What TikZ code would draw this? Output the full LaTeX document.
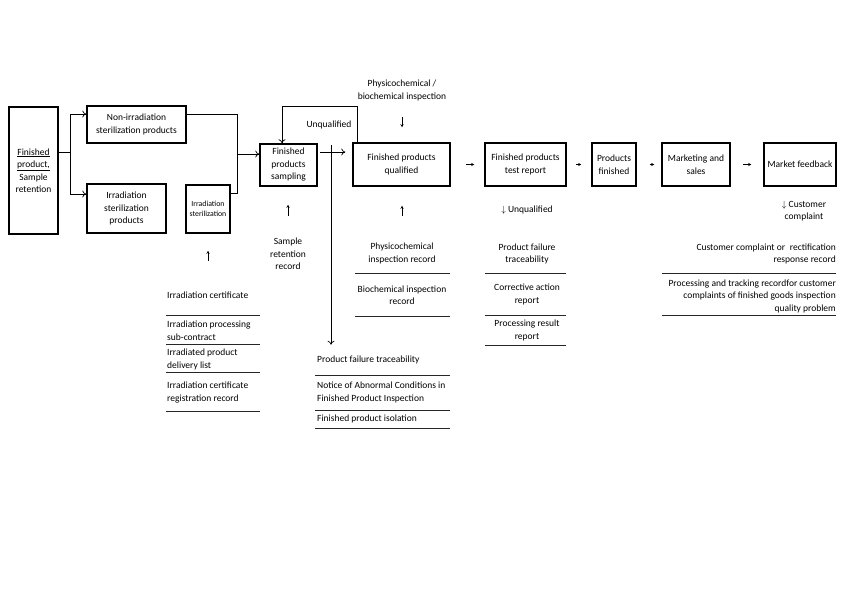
\documentclass[tikz,border=0pt]{standalone}
\usepackage{fontspec}
\setmainfont{Carlito}
\usetikzlibrary{arrows.meta,positioning,calc}
\tikzset{
  procbox/.style={draw, line width=1.5pt, align=center, inner sep=1pt},
  note/.style={align=center, inner sep=0pt},
  noteleft/.style={note, align=left, anchor=west},
  noteright/.style={note, align=right, anchor=east},
  flowarr/.style={-{To[length=4pt,width=7pt]}, line width=0.7pt},
  tinyarr/.style={-{Stealth[length=3pt,width=3pt]}, line width=0.6pt},
  sepline/.style={line width=0.7pt, black!85},
}

\begin{document}
\begin{tikzpicture}[x=1pt, y=-1pt, font=\fontsize{9.5}{12.5}\selectfont]
  \useasboundingbox (0,0) rectangle (864,611);

  \node[procbox, minimum width=49pt, minimum height=127pt] (fp) at (33.5,170.5)
       {\underline{Finished}\\\underline{product,}\\Sample\\retention};
  \node[procbox, minimum width=99pt, minimum height=37pt] (nonirr) at (136.5,124.5)
       {Non-irradiation\\sterilization products};
  \node[procbox, minimum width=79pt, minimum height=49pt] (irr) at (126.5,208.5)
       {Irradiation\\sterilization\\products};
  \node[procbox, minimum width=44pt, minimum height=48pt, font=\fontsize{7.8}{10.5}\selectfont] (irrs) at (208,209)
       {Irradiation\\sterilization};
  \node[procbox, minimum width=57pt, minimum height=42pt] (samp) at (288.5,165)
       {Finished\\products\\sampling};
  \node[procbox, minimum width=97pt, minimum height=43pt] (qual) at (401.5,164.5)
       {Finished products\\qualified};
  \node[procbox, minimum width=81pt, minimum height=43pt] (test) at (525.5,164.5)
       {Finished products\\test report};
  \node[procbox, minimum width=44pt, minimum height=43pt] (pf) at (614,164.5)
       {Products\\finished};
  \node[procbox, minimum width=68pt, minimum height=43pt] (mkt) at (696,164.5)
       {Marketing and\\sales};
  \node[procbox, minimum width=72pt, minimum height=43pt] (fb) at (800,164.5)
       {Market feedback};

  \node[note] (phys) at (402,90.5) {Physicochemical /\\biochemical inspection};
  \node[note] (unq) at (329,125) {Unqualified};
  \node[note] (ret) at (288,254) {Sample\\retention\\record};
  \node[note] (unq2) at (527,210) {$\downarrow$ Unqualified};
  \node[note] (cc) at (804,211) {$\downarrow$ Customer\\complaint};

  \node[noteleft] (irc) at (167,295) {Irradiation certificate};
  \node[noteleft] (irp) at (167,330.5) {Irradiation processing\\sub-contract};
  \node[noteleft] (ird) at (167,359.5) {Irradiated product\\delivery list};
  \node[noteleft] (irr2) at (167,392.5) {Irradiation certificate\\registration record};
  \foreach \y in {315,344,372,411} \draw[sepline] (166,\y) -- (260,\y);

  \node[note] (phrec) at (402,253.5) {Physicochemical\\inspection record};
  \node[note] (birec) at (402,295) {Biochemical inspection\\record};
  \foreach \y in {273,316} \draw[sepline] (355,\y) -- (450,\y);

  \node[noteleft] (pft) at (317,360) {Product failure traceability};
  \node[noteleft] (notice) at (317,392.5) {Notice of Abnormal Conditions in\\Finished Product Inspection};
  \node[noteleft] (iso) at (317,419) {Finished product isolation};
  \foreach \y in {375,410,428} \draw[sepline] (315,\y) -- (450,\y);

  \node[note] (trace) at (527,254) {Product failure\\traceability};
  \node[note] (corr) at (527,294.5) {Corrective action\\report};
  \node[note] (res) at (527,330.5) {Processing result\\report};
  \foreach \y in {273,315,345} \draw[sepline] (485,\y) -- (566,\y);

  \node[noteright] (ccrec) at (836,254) {Customer complaint or\enspace rectification\\response record};
  \node[noteright] (track) at (836,296) {Processing and tracking recordfor customer\\complaints of finished goods inspection\\quality problem};
  \foreach \y in {273,315} \draw[sepline] (662,\y) -- (836,\y);

  \draw[line width=0.7pt] ([yshift=18.5pt]fp.east) -- ++(12,0) coordinate (fork);
  \draw[flowarr] (fork) |- ([yshift=10.5pt]nonirr.west);
  \draw[flowarr] (fork) |- ([yshift=14.5pt]irr.west);
  \coordinate (join) at (237,154);
  \draw[line width=0.7pt] ([yshift=10.5pt]nonirr.east) -| (join);
  \draw[line width=0.7pt] ([yshift=16pt]irrs.east) -| (join);
  \draw[flowarr] (join) -- (join -| samp.west);

  \draw[flowarr, shorten <=2pt, shorten >=7pt] ([yshift=13pt]samp.east) -- ([yshift=13pt]samp.east -| qual.west);
  \draw[flowarr] ([xshift=5pt]qual.north west) -- ++(0,-36) -| ([xshift=-6.5pt]samp.north);
  \coordinate (split) at (331,145);
  \draw[flowarr, shorten >=11pt] (split) -- (split |- pft.north);

  \draw[tinyarr, shorten <=30pt, shorten >=17pt] (irrs.south |- irc.north) -- (irrs.south);
  \draw[tinyarr, shorten <=22pt, shorten >=18pt] (ret.north) -- (ret.north |- samp.south);
  \draw[tinyarr, shorten <=16pt, shorten >=15pt] (phys.south) -- (phys.south |- qual.north);
  \draw[tinyarr, shorten <=27pt, shorten >=19pt] (phrec.north) -- (phrec.north |- qual.south);

  \draw[tinyarr, shorten <=15pt, shorten >=10pt] (qual.east) -- (test.west);
  \draw[tinyarr, shorten <=9pt, shorten >=10pt] (test.east) -- (pf.west);
  \draw[tinyarr, shorten <=13pt, shorten >=7pt] (pf.east) -- (mkt.west);
  \draw[tinyarr, shorten <=12pt, shorten >=12pt] (mkt.east) -- (fb.west);
\end{tikzpicture}
\end{document}
